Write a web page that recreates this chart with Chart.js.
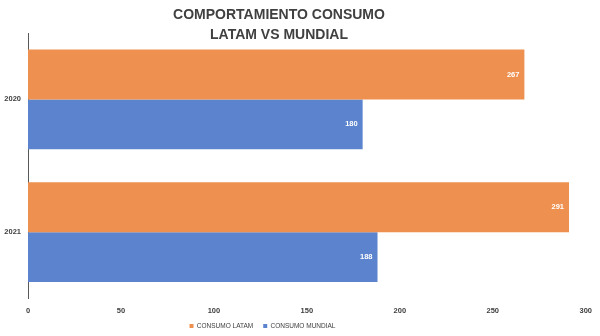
<!DOCTYPE html>
<html>
<head>
<meta charset="utf-8">
<script src="https://cdn.jsdelivr.net/npm/chart.js@4.4.1/dist/chart.umd.min.js"></script>
<style>
  html, body { margin: 0; padding: 0; background: #fff; }
</style>
</head>
<body>
<canvas id="chart" width="600" height="336"></canvas>
<script>
// Consumption per year, LATAM vs world
const years = ['2020', '2021'];
const consumoLatam = [267, 291];
const consumoMundial = [180, 188];
const seriesNames = ['CONSUMO LATAM', 'CONSUMO MUNDIAL'];
const titleLines = ['COMPORTAMIENTO CONSUMO', 'LATAM VS MUNDIAL'];

const FONT = "'Liberation Sans', Arial, sans-serif";
const orange = '#EE9150';
const blue = '#5C84CE';
const textColor = '#404040';

// white value labels at the end of each bar
const valueLabels = {
    id: 'valueLabels',
    afterDatasetsDraw(chart) {
        const ctx = chart.ctx;
        ctx.save();
        ctx.fillStyle = '#ffffff';
        ctx.font = 'bold 7.5px ' + FONT;
        ctx.textAlign = 'right';
        ctx.textBaseline = 'middle';
        chart.data.datasets.forEach((ds, i) => {
            chart.getDatasetMeta(i).data.forEach((bar, j) => {
                ctx.fillText(ds.data[j], bar.x - 5, bar.y);
            });
        });
        ctx.restore();
    }
};

// move title and legend to where the original chart had them,
// and let the x tick labels use the space down to the legend
const placeBoxes = {
    id: 'placeBoxes',
    afterLayout(chart) {
        const t = chart.titleBlock;
        if (t) {
            const h = t.height;
            t.top = 5; t.bottom = t.top + h;
            t.left = 0; t.right = 558; t.width = 558;
        }
        const lg = chart.legend;
        if (lg) {
            const h = lg.height;
            const pad = lg.options.labels.padding;
            lg.top = 326 - pad - 6.5 / 2; lg.bottom = lg.top + h;
            lg.left = 0; lg.right = 525; lg.width = 525;
        }
        const x = chart.scales.x;
        x.bottom = 320;
        x.height = x.bottom - x.top;
    }
};

new Chart(document.getElementById('chart'), {
    type: 'bar',
    data: {
        labels: years,
        datasets: [
            { label: seriesNames[0], data: consumoLatam, backgroundColor: orange, borderWidth: 0 },
            { label: seriesNames[1], data: consumoMundial, backgroundColor: blue, borderWidth: 0 }
        ]
    },
    options: {
        indexAxis: 'y',
        responsive: false,
        animation: false,
        categoryPercentage: 0.75,
        barPercentage: 1.0,
        layout: { padding: { top: -7, right: 12, left: 0, bottom: 0 } },
        plugins: {
            title: {
                display: true,
                text: titleLines,
                color: textColor,
                font: { family: FONT, size: 14, weight: 'bold', lineHeight: 20 / 14 },
                padding: 0
            },
            legend: {
                position: 'bottom',
                labels: {
                    boxWidth: 4,
                    boxHeight: 4,
                    padding: 10,
                    color: textColor,
                    font: { family: FONT, size: 6.5 }
                }
            },
            tooltip: { enabled: false }
        },
        scales: {
            x: {
                min: 0,
                max: 300,
                ticks: {
                    stepSize: 50,
                    padding: 8,
                    color: textColor,
                    font: { family: FONT, size: 7.5, weight: 'bold' }
                },
                grid: { display: false, drawTicks: false, tickLength: 0 },
                border: { display: false },
                afterFit(scale) {
                    scale.height = Math.max(0, 336 - 298.5 - scale.chart.legend.height);
                }
            },
            y: {
                ticks: {
                    padding: 7,
                    color: textColor,
                    font: { family: FONT, size: 7.5, weight: 'bold' }
                },
                grid: { display: false, drawTicks: false, tickLength: 0 },
                border: { display: true, color: '#595959', width: 1 },
                afterFit(scale) {
                    scale.width = 28;
                }
            }
        }
    },
    plugins: [valueLabels, placeBoxes]
});
</script>
</body>
</html>
